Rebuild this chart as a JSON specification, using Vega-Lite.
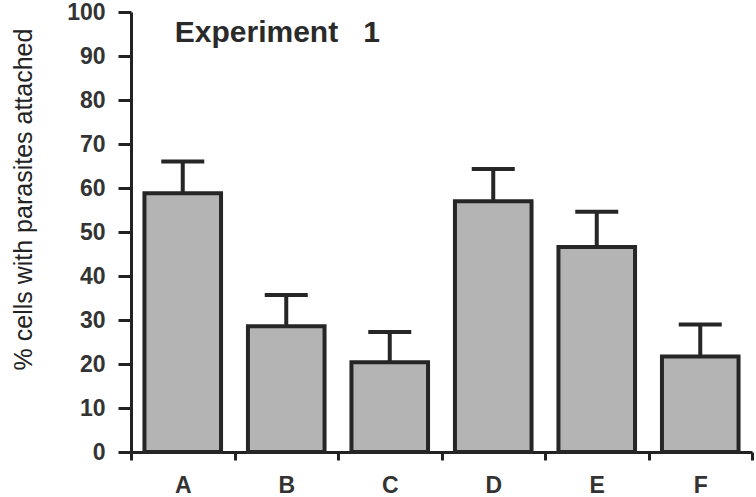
{
  "$schema": "https://vega.github.io/schema/vega-lite/v6.json",
  "width": 621,
  "height": 440,
  "autosize": {"type": "none"},
  "padding": {"left": 131, "top": 12, "right": 4, "bottom": 45},
  "background": "white",
  "config": {"view": {"stroke": null}, "font": "Liberation Sans"},
  "data": {
    "values": [
      {"group": "A", "mean": 58.8, "upper": 66.0},
      {"group": "B", "mean": 28.6, "upper": 35.7},
      {"group": "C", "mean": 20.4, "upper": 27.3},
      {"group": "D", "mean": 57.0, "upper": 64.3},
      {"group": "E", "mean": 46.6, "upper": 54.6},
      {"group": "F", "mean": 21.7, "upper": 29.0}
    ]
  },
  "encoding": {
    "x": {
      "field": "group",
      "type": "nominal",
      "scale": {"paddingInner": 0, "paddingOuter": 0},
      "axis": {
        "title": null,
        "labelAngle": 0,
        "labelFont": "Liberation Sans",
        "labelFontSize": 23,
        "labelFontWeight": "bold",
        "labelColor": "#333",
        "labelPadding": 14,
        "tickBand": "extent",
        "tickSize": 8,
        "tickWidth": 3,
        "tickColor": "#222",
        "domainWidth": 3,
        "domainColor": "#222",
        "grid": false
      }
    }
  },
  "layer": [
    {
      "mark": {"type": "bar", "fill": "#b4b4b4", "stroke": "#262626", "strokeWidth": 4, "width": {"band": 0.74}},
      "encoding": {
        "y": {
          "field": "mean",
          "type": "quantitative",
          "scale": {"domain": [0, 100], "nice": false},
          "axis": {
            "title": "% cells with parasites attached",
            "titleFont": "Liberation Sans",
            "titleFontSize": 25,
            "titleFontWeight": "normal",
            "titleColor": "#222",
            "titleBaseline": "alphabetic",
            "titleX": -100,
            "titleY": 187,
            "values": [0, 5, 10, 15, 20, 25, 30, 35, 40, 45, 50, 55, 60, 65, 70, 75, 80, 85, 90, 95, 100],
            "labelExpr": "datum.value % 10 === 0 ? datum.label : ''",
            "labelFont": "Liberation Sans",
            "labelFontSize": 23,
            "labelFontWeight": "bold",
            "labelColor": "#333",
            "labelPadding": 13,
            "tickSize": {"condition": {"test": "datum.value % 10 === 0", "value": 13}, "value": 7},
            "tickWidth": 3,
            "tickColor": "#222",
            "domainWidth": 3,
            "domainColor": "#222",
            "grid": false
          }
        }
      }
    },
    {
      "mark": {"type": "rule", "color": "#262626", "strokeWidth": 4},
      "encoding": {
        "y": {"field": "mean", "type": "quantitative"},
        "y2": {"field": "upper"}
      }
    },
    {
      "mark": {"type": "tick", "color": "#262626", "size": 43, "thickness": 4, "opacity": 1},
      "encoding": {
        "y": {"field": "upper", "type": "quantitative"}
      }
    },
    {
      "data": {"values": [{"label": "Experiment\u00a0\u00a0\u00a01", "anchorGroup": "A", "anchorValue": 93.2}]},
      "mark": {"type": "text", "font": "Liberation Sans", "fontSize": 30, "fontWeight": "bold", "color": "#2a2a2a", "align": "left", "baseline": "alphabetic", "dx": -8},
      "encoding": {
        "x": {"field": "anchorGroup", "type": "nominal"},
        "y": {"field": "anchorValue", "type": "quantitative"},
        "text": {"field": "label"}
      }
    }
  ]
}
